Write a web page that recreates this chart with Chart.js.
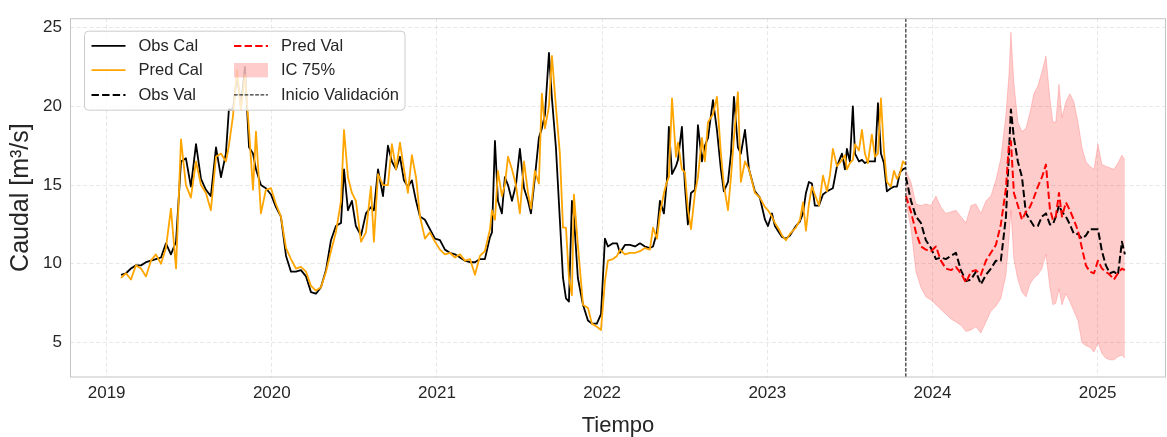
<!DOCTYPE html>
<html><head><meta charset="utf-8">
<script src="https://cdn.jsdelivr.net/npm/chart.js@4.4.1/dist/chart.umd.min.js"></script>
<style>html,body{margin:0;padding:0;background:#fff;}#wrap{width:1167px;height:437px;position:relative;}</style>
</head><body><div id="wrap"><canvas id="c"></canvas></div>
<script>
// ---- data (decimal years, m3/s) ----
const calTime = [2019.087,2019.117,2019.147,2019.177,2019.208,2019.238,2019.268,2019.298,2019.329,2019.359,
2019.389,2019.420,2019.450,2019.480,2019.510,2019.541,2019.571,2019.601,2019.631,2019.662,
2019.692,2019.722,2019.740,2019.765,2019.789,2019.813,2019.837,2019.862,2019.886,2019.904,
2019.934,2019.964,2019.995,2020.025,2020.055,2020.086,2020.116,2020.146,2020.176,2020.207,
2020.237,2020.267,2020.297,2020.328,2020.358,2020.388,2020.419,2020.437,2020.461,2020.485,
2020.509,2020.540,2020.570,2020.600,2020.618,2020.643,2020.673,2020.703,2020.727,2020.752,
2020.776,2020.800,2020.824,2020.848,2020.873,2020.897,2020.927,2020.957,2020.988,2021.018,
2021.048,2021.078,2021.109,2021.139,2021.169,2021.200,2021.230,2021.260,2021.290,2021.321,
2021.333,2021.351,2021.369,2021.393,2021.411,2021.430,2021.454,2021.478,2021.502,2021.527,
2021.551,2021.569,2021.593,2021.617,2021.635,2021.654,2021.678,2021.696,2021.720,2021.744,
2021.763,2021.781,2021.799,2021.817,2021.829,2021.853,2021.884,2021.914,2021.938,2021.968,
2021.993,2022.017,2022.035,2022.065,2022.090,2022.108,2022.138,2022.168,2022.199,2022.229,
2022.259,2022.289,2022.308,2022.332,2022.350,2022.374,2022.392,2022.404,2022.423,2022.447,
2022.459,2022.483,2022.501,2022.519,2022.538,2022.562,2022.580,2022.604,2022.622,2022.641,
2022.671,2022.695,2022.719,2022.737,2022.762,2022.780,2022.798,2022.822,2022.840,2022.865,
2022.889,2022.925,2022.955,2022.986,2023.004,2023.028,2023.046,2023.070,2023.089,2023.113,
2023.137,2023.173,2023.198,2023.216,2023.234,2023.252,2023.270,2023.288,2023.313,2023.337,
2023.361,2023.379,2023.397,2023.422,2023.452,2023.470,2023.482,2023.500,2023.518,2023.531,
2023.555,2023.573,2023.591,2023.609,2023.633,2023.652,2023.670,2023.688,2023.706,2023.724,
2023.748,2023.767,2023.785,2023.803,2023.821,2023.839];
const obsCal = [9.3,9.4,9.7,9.9,9.9,10.1,10.2,10.3,10.4,11.3,
10.6,11.4,16.5,16.7,14.9,17.6,15.4,14.7,14.3,17.4,
15.5,17.0,19.8,19.8,22.0,20.0,22.5,17.4,17.0,16.0,
15.0,14.8,14.4,13.6,13.0,10.5,9.5,9.5,9.6,9.2,
8.2,8.1,8.5,9.6,11.5,12.4,12.6,16.0,13.4,14.0,
12.4,11.8,13.2,13.6,13.4,16.0,14.3,17.5,16.5,16.0,
16.8,15.3,14.9,15.3,14.0,13.0,12.8,12.2,11.6,11.5,
10.9,10.7,10.6,10.4,10.2,10.1,10.1,10.3,10.3,11.7,
12.0,17.8,14.0,13.2,15.5,15.0,14.0,15.0,17.3,14.8,
14.0,13.2,15.5,18.0,18.6,19.5,23.4,20.5,17.4,12.8,
9.1,7.8,7.6,14.0,13.0,9.1,7.4,6.4,6.2,6.2,
6.8,11.6,11.1,11.3,11.3,10.7,11.2,11.2,11.1,11.3,
11.1,11.0,11.1,12.0,14.0,13.2,15.3,18.7,15.7,16.2,
16.6,18.7,15.0,12.5,14.5,14.7,18.8,16.5,17.5,18.0,
20.4,18.5,16.0,14.6,15.2,17.0,20.6,17.4,17.0,18.5,
16.0,14.6,14.2,12.8,12.4,13.2,12.4,12.0,11.7,11.6,
11.8,12.4,12.7,13.2,14.5,15.2,15.1,13.7,13.7,14.4,
14.6,14.7,14.8,16.2,17.0,16.0,17.3,16.5,20.0,17.0,
16.5,16.6,16.4,16.5,16.5,16.5,20.2,17.0,16.4,14.6,
14.8,14.9,14.9,15.8,16.0,16.1];
const predCal = [9.1,9.4,9.0,9.9,9.7,9.2,10.2,10.6,10.0,11.0,
13.5,9.7,17.9,15.0,14.2,16.5,15.0,14.5,13.4,16.8,
17.0,16.5,17.5,19.4,22.3,19.8,22.0,18.5,14.7,18.4,
13.2,14.7,14.8,13.8,13.0,11.0,10.3,9.7,9.8,9.5,
8.6,8.3,8.5,9.5,10.8,12.0,14.0,18.5,15.5,14.5,
14.0,11.4,12.0,14.9,11.4,15.7,15.0,15.0,17.6,16.0,
17.7,16.0,14.5,16.9,15.5,13.0,11.6,12.0,11.4,10.9,
10.6,10.7,10.4,10.6,10.2,10.3,9.3,10.5,10.8,12.2,
13.4,12.8,15.9,14.3,15.0,16.8,16.0,15.0,13.2,16.5,
14.5,13.5,15.9,15.1,20.8,18.6,20.0,23.2,20.0,17.0,
12.3,12.3,9.1,8.0,14.4,11.2,7.4,7.2,6.2,6.0,
5.8,8.9,10.2,10.3,10.5,10.9,10.6,10.7,10.7,10.8,
11.0,10.9,12.3,11.6,13.2,14.5,15.2,15.5,20.5,16.8,
17.7,16.0,15.8,13.5,12.2,14.5,15.5,18.0,16.5,19.0,
19.5,20.6,17.0,15.0,13.4,15.5,18.0,20.9,15.2,16.5,
16.0,14.5,14.2,13.6,13.4,13.0,12.6,12.2,11.8,11.5,
11.9,12.3,12.8,13.9,12.1,13.8,14.9,14.4,13.7,15.6,
14.6,15.6,17.3,16.2,16.6,16.9,16.0,16.4,16.6,17.6,
17.2,18.5,17.0,16.4,18.2,16.8,17.0,20.5,17.2,15.2,
14.9,15.9,15.4,15.7,16.5,16.3];
const valTime = [2023.839,2023.870,2023.900,2023.930,2023.960,2023.991,2024.021,2024.051,2024.081,2024.112,
2024.142,2024.172,2024.203,2024.233,2024.263,2024.293,2024.324,2024.354,2024.384,2024.414,
2024.445,2024.463,2024.475,2024.493,2024.517,2024.542,2024.566,2024.590,2024.614,2024.638,
2024.663,2024.687,2024.711,2024.729,2024.747,2024.766,2024.784,2024.808,2024.832,2024.856,
2024.881,2024.905,2024.929,2024.953,2024.978,2025.002,2025.026,2025.050,2025.074,2025.099,
2025.123,2025.147,2025.165];
const obsVal = [15.5,14.0,13.0,12.6,11.5,11.0,10.3,10.4,10.3,10.5,
10.7,9.6,8.9,9.0,9.5,8.7,9.3,9.7,10.2,10.2,
13.0,17.0,19.8,18.0,16.5,15.5,13.2,12.8,12.4,12.4,
13.0,13.2,12.5,12.5,13.0,13.7,13.3,13.0,12.5,11.9,
11.9,11.6,11.8,12.2,12.2,12.2,10.8,9.9,9.4,9.5,
9.3,11.4,10.6];
const predVal = [14.3,13.3,12.0,11.1,10.9,10.8,11.1,10.2,9.7,9.6,
9.8,9.4,8.8,9.5,9.6,9.3,10.2,10.7,11.2,12.5,
14.8,17.6,17.8,14.5,13.7,12.8,13.3,13.6,14.2,14.9,
15.5,16.3,13.5,12.8,13.0,14.5,13.0,13.9,13.4,12.8,
12.1,11.0,9.9,9.5,9.4,10.2,9.7,9.5,9.3,9.0,
9.4,9.7,9.6];
const icLow = [14.0,12.2,9.5,8.5,7.9,7.7,7.4,7.1,6.8,6.5,
6.3,6.1,5.7,5.8,6.0,5.6,6.3,7.0,7.3,7.8,
9.3,11.5,13.4,10.3,9.0,8.2,7.9,8.7,9.1,9.3,
9.7,10.6,8.5,7.4,7.5,8.4,7.4,8.1,7.6,7.0,
6.4,5.0,4.8,4.7,4.4,5.0,4.3,4.0,3.9,3.9,
4.1,4.2,4.0];
const icHigh = [15.9,15.2,13.8,13.7,13.8,13.7,14.3,13.6,13.2,13.3,
13.4,13.0,12.6,13.7,13.8,13.2,14.0,14.3,15.3,16.7,
19.5,22.0,24.7,21.5,19.0,18.4,18.6,19.6,20.8,21.3,
22.2,23.2,20.5,19.0,19.0,21.4,19.3,20.3,20.8,20.3,
19.0,17.4,16.5,16.2,16.0,17.6,16.3,16.2,16.1,16.0,
16.4,16.9,16.6];
const valStart = 2023.839;
const xTickVals = [2019,2020,2021,2022,2023,2024,2025];
const yTickVals = [5,10,15,20,25];
const xRange = [2018.778, 2025.414];
const yRange = [2.81, 25.6];
const legendOrder = ['Obs Cal','Pred Cal','Obs Val','Pred Val','IC 75%','Inicio Validación'];

// ---- chart ----
const FONT = "'Liberation Sans', Arial, sans-serif";
Chart.defaults.font.family = FONT;
Chart.defaults.color = '#262626';
const TXT = '#262626';
const pts = (t, v) => t.map((x, i) => ({x: x, y: v[i]}));

const frameAndLegend = {
  id: 'frameAndLegend',
  afterDatasetsDraw(chart) {
    const {ctx, chartArea: a} = chart;
    ctx.save();
    ctx.strokeStyle = '#c4c4c4';
    ctx.lineWidth = 1;
    ctx.strokeRect(a.left + 0.5, a.top + 0.5, a.right - a.left - 1, a.bottom - a.top - 0.5);
    // legend box
    const bx = a.left + 14.5, by = a.top + 13, bw = 320.5, bh = 79, r = 4;
    ctx.beginPath();
    ctx.moveTo(bx + r, by); ctx.lineTo(bx + bw - r, by); ctx.arcTo(bx + bw, by, bx + bw, by + r, r);
    ctx.lineTo(bx + bw, by + bh - r); ctx.arcTo(bx + bw, by + bh, bx + bw - r, by + bh, r);
    ctx.lineTo(bx + r, by + bh); ctx.arcTo(bx, by + bh, bx, by + bh - r, r);
    ctx.lineTo(bx, by + r); ctx.arcTo(bx, by, bx + r, by, r); ctx.closePath();
    ctx.fillStyle = 'rgba(255,255,255,0.8)'; ctx.fill();
    ctx.strokeStyle = '#cccccc'; ctx.stroke();
    const rows = [14.7, 39, 63.7], cols = [7, 149.5], lineLen = 34, textGap = 13;
    ctx.font = '16.5px ' + FONT;
    ctx.textBaseline = 'middle';
    ctx.textAlign = 'left';
    legendOrder.forEach((lab, i) => {
      const ds = chart.data.datasets.find(d => d.label === lab);
      const cx = bx + cols[Math.floor(i / 3)], cy = by + rows[i % 3];
      if (ds.fill) {
        ctx.fillStyle = ds.backgroundColor;
        ctx.fillRect(cx, cy - 7.2, lineLen, 14.4);
      } else {
        ctx.beginPath();
        ctx.setLineDash(ds.borderDash || []);
        ctx.strokeStyle = ds.borderColor; ctx.lineWidth = ds.borderWidth;
        ctx.moveTo(cx, cy); ctx.lineTo(cx + lineLen, cy); ctx.stroke();
        ctx.setLineDash([]);
      }
      ctx.fillStyle = TXT;
      ctx.fillText(lab, cx + lineLen + textGap, cy + 0.5);
    });
    ctx.restore();
  }
};

new Chart(document.getElementById('c'), {
  type: 'line',
  data: {datasets: [
    {label: 'IC 75%', data: pts(valTime, icHigh), borderColor: 'rgba(255,0,0,0.18)', borderWidth: 1,
     backgroundColor: 'rgba(255,0,0,0.2)', fill: '+1', order: 7},
    {label: 'IC low', data: pts(valTime, icLow), borderColor: 'rgba(255,0,0,0.18)', borderWidth: 1, fill: false, order: 8},
    {label: 'Obs Cal', data: pts(calTime, obsCal), borderColor: '#000000', borderWidth: 1.8, fill: false, order: 4},
    {label: 'Pred Cal', data: pts(calTime, predCal), borderColor: '#FFA500', borderWidth: 1.8, fill: false, order: 3},
    {label: 'Obs Val', data: pts(valTime, obsVal), borderColor: '#000000', borderWidth: 2, borderDash: [7.4, 3.2], fill: false, order: 6},
    {label: 'Pred Val', data: pts(valTime, predVal), borderColor: '#FF0000', borderWidth: 2, borderDash: [7.4, 3.2], fill: false, order: 5},
    {label: 'Inicio Validación', data: [{x: valStart, y: yRange[0]}, {x: valStart, y: yRange[1]}],
     borderColor: '#000000', borderWidth: 1, borderDash: [3.7, 1.6], fill: false, order: 1}
  ]},
  options: {
    responsive: true, maintainAspectRatio: false, animation: false,
    layout: {padding: {top: 9, right: 1, left: 0, bottom: 0}},
    elements: {point: {radius: 0, hoverRadius: 0}, line: {tension: 0, borderJoinStyle: 'round', borderCapStyle: 'butt'}},
    plugins: {legend: {display: false}, tooltip: {enabled: false}},
    events: [],
    scales: {
      x: {
        type: 'linear', min: xRange[0], max: xRange[1],
        afterBuildTicks: s => { s.ticks = xTickVals.map(v => ({value: v})); },
        afterFit: s => { s.height = 60; },
        ticks: {callback: v => String(v), font: {size: 17}, color: TXT, padding: 6, maxRotation: 0, autoSkip: false},
        grid: {color: 'rgba(0,0,0,0.12)', lineWidth: 0.8, drawTicks: false},
        border: {display: false, dash: [4, 2.5]},
        title: {display: true, text: 'Tiempo', font: {size: 22, lineHeight: 1.2}, color: TXT, padding: {top: 0, bottom: -2}}
      },
      y: {
        min: yRange[0], max: yRange[1],
        afterBuildTicks: s => { s.ticks = yTickVals.map(v => ({value: v})); },
        afterFit: s => { s.width = 70; },
        ticks: {font: {size: 17}, color: TXT, padding: 8},
        grid: {color: 'rgba(0,0,0,0.12)', lineWidth: 0.8, drawTicks: false},
        border: {display: false, dash: [4, 2.5]},
        title: {display: true, text: 'Caudal [m³/s]', font: {size: 25, lineHeight: 1.2}, color: TXT, padding: {top: 6, bottom: 0}}
      }
    }
  },
  plugins: [frameAndLegend]
});
</script></body></html>
